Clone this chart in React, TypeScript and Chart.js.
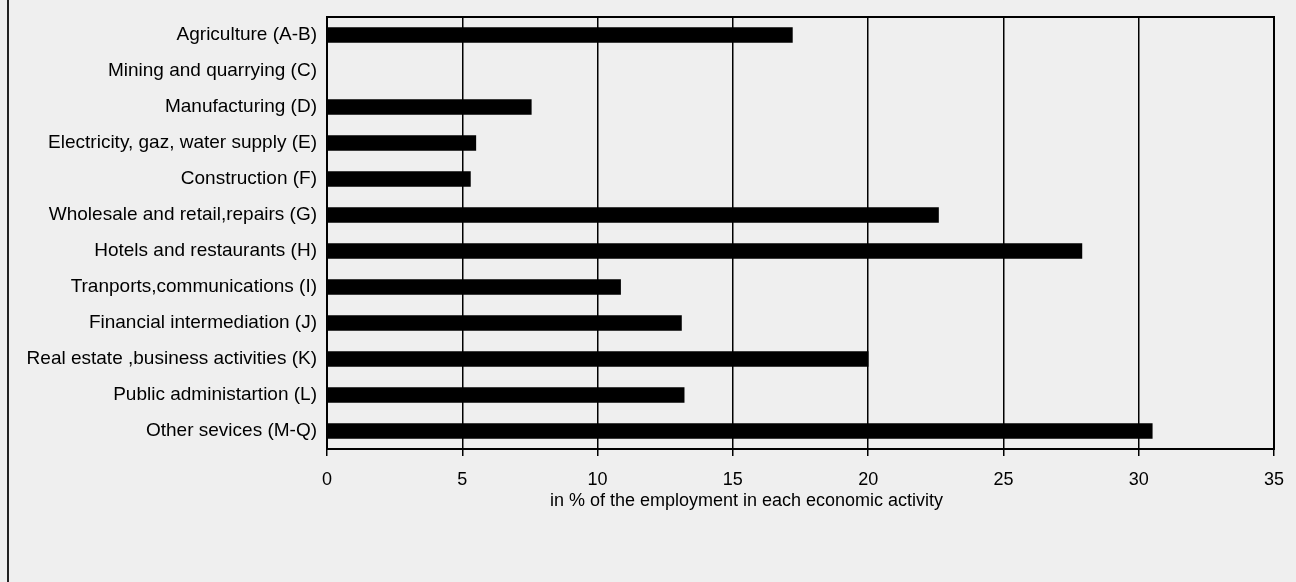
import React, { useEffect, useRef } from "react";
import { Chart, registerables } from "chart.js";

Chart.register(...registerables);

const categories = [
  "Agriculture (A-B)",
  "Mining and quarrying (C)",
  "Manufacturing (D)",
  "Electricity, gaz, water supply (E)",
  "Construction (F)",
  "Wholesale and retail,repairs (G)",
  "Hotels and restaurants (H)",
  "Tranports,communications (I)",
  "Financial intermediation (J)",
  "Real estate ,business activities (K)",
  "Public administartion (L)",
  "Other sevices (M-Q)",
];

const values = [17.2, 0, 7.55, 5.5, 5.3, 22.6, 27.9, 10.85, 13.1, 20.0, 13.2, 30.5];

const xMin = 0;
const xMax = 35;
const xStep = 5;

const xAxisTitle = "in % of the employment in each economic activity";

const FONT = '"Liberation Sans", Arial, sans-serif';

export default function App() {
  const ref = useRef<HTMLCanvasElement | null>(null);

  useEffect(() => {
    if (!ref.current) return;

    const plotBorder = {
      id: "plotBorder",
      afterDatasetsDraw(chart: any) {
        const { ctx, chartArea } = chart;
        ctx.save();
        ctx.strokeStyle = "#000";
        ctx.lineWidth = 2;
        ctx.strokeRect(
          chartArea.left,
          chartArea.top,
          chartArea.right - chartArea.left,
          chartArea.bottom - chartArea.top
        );
        ctx.restore();
      },
    };

    const axisTitle = {
      id: "axisTitle",
      afterDraw(chart: any) {
        const { ctx, chartArea } = chart;
        ctx.save();
        ctx.font = `18px ${FONT}`;
        ctx.fillStyle = "#000";
        ctx.textAlign = "center";
        ctx.textBaseline = "alphabetic";
        const cx = chartArea.left + (chartArea.right - chartArea.left) * 0.443;
        ctx.fillText(xAxisTitle, cx, chartArea.bottom + 57);
        ctx.restore();
      },
    };

    const chart = new Chart(ref.current, {
      type: "bar",
      data: {
        labels: categories,
        datasets: [
          {
            data: values,
            backgroundColor: "#000",
            borderWidth: 0,
            barThickness: 15,
          },
        ],
      },
      options: {
        indexAxis: "y",
        animation: false,
        responsive: false,
        maintainAspectRatio: false,
        layout: { padding: { left: 0, right: 22, top: 17, bottom: 33 } },
        plugins: {
          legend: { display: false },
          tooltip: { enabled: false },
          title: { display: false },
        },
        scales: {
          x: {
            min: xMin,
            max: xMax,
            ticks: {
              stepSize: xStep,
              color: "#000",
              font: { family: FONT, size: 18 },
              padding: 13,
            },
            grid: {
              color: "#000",
              lineWidth: 1.5,
              drawTicks: true,
              tickLength: 7,
            },
            border: { display: true, color: "#000", width: 2 },
            afterFit(scale: any) {
              scale.height = 100;
              scale.paddingLeft = 0;
              scale.paddingRight = 0;
            },
          },
          y: {
            ticks: {
              color: "#000",
              font: { family: FONT, size: 19 },
              padding: 10,
            },
            grid: { display: false, drawTicks: false },
            border: { display: false },
            afterFit(scale: any) {
              scale.width = 327;
              scale.paddingTop = 0;
              scale.paddingBottom = 0;
            },
          },
        },
      },
      plugins: [plotBorder, axisTitle],
    });

    return () => chart.destroy();
  }, []);

  return (
    <div
      style={{
        position: "fixed",
        left: 0,
        top: 0,
        width: 1296,
        height: 582,
        background: "#efefef",
        overflow: "hidden",
      }}
    >
      <div
        style={{
          position: "absolute",
          left: 7,
          top: 0,
          width: 2,
          height: 582,
          background: "#222",
        }}
      />
      <canvas
        ref={ref}
        width={1296}
        height={582}
        style={{ position: "absolute", left: 0, top: 0, width: 1296, height: 582 }}
      />
    </div>
  );
}
